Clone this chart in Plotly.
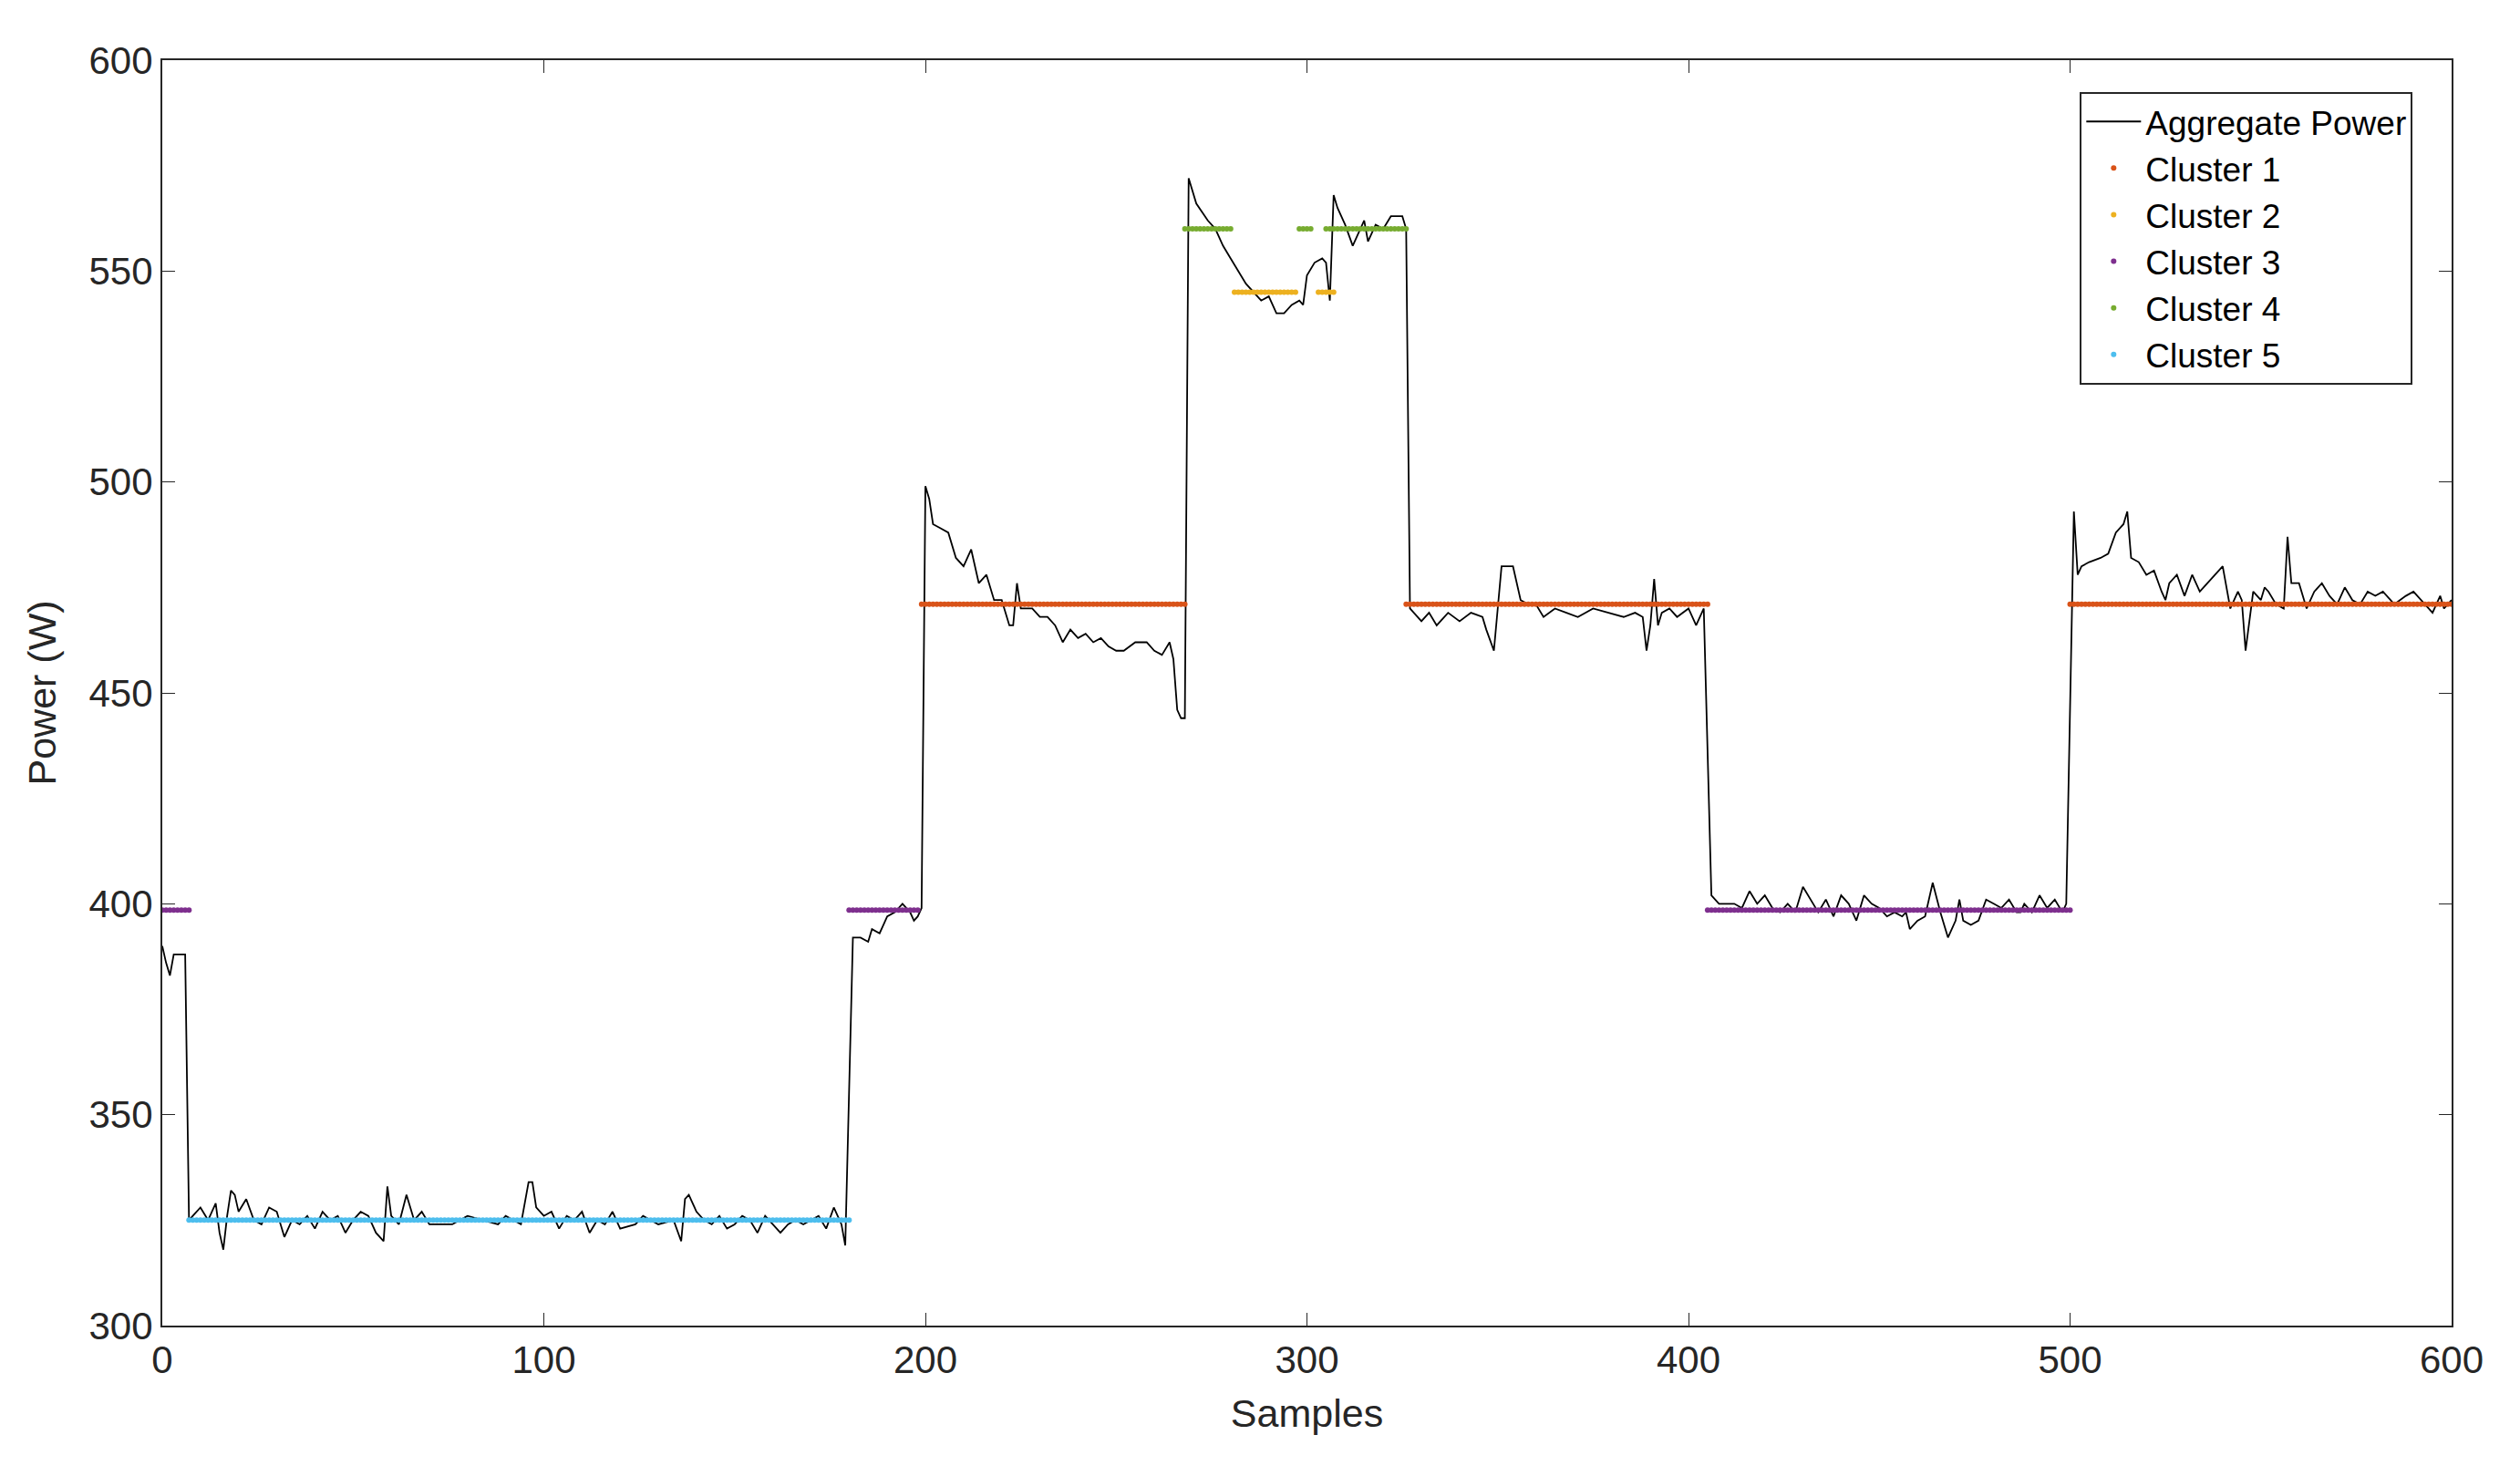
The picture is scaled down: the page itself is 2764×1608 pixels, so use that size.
import plotly.graph_objects as go

# aggregate power as (sample, W) pairs
agg_points = [
    (0, 390), (1, 386), (2, 383), (3, 388), (6, 388), (7, 325), (8, 326), (10, 328), (12, 325), (14, 329),
    (15, 322), (16, 318), (17, 326), (18, 332), (19, 331), (20, 327), (22, 330), (24, 325), (26, 324),
    (28, 328), (30, 327), (32, 321), (34, 325), (36, 324), (38, 326), (40, 323), (42, 327), (44, 325),
    (46, 326), (48, 322), (50, 325), (52, 327), (54, 326), (56, 322), (58, 320), (59, 333), (60, 326),
    (62, 324), (64, 331), (66, 325), (68, 327), (70, 324), (76, 324), (80, 326), (84, 325), (88, 324),
    (90, 326), (94, 324), (96, 334), (97, 334), (98, 328), (100, 326), (102, 327), (104, 323), (106, 326),
    (108, 325), (110, 327), (112, 322), (114, 325), (116, 324), (118, 327), (120, 323), (124, 324),
    (126, 326), (130, 324), (134, 325), (136, 320), (137, 330), (138, 331), (140, 327), (142, 325),
    (144, 324), (146, 326), (148, 323), (150, 324), (152, 326), (154, 325), (156, 322), (158, 326),
    (160, 324), (162, 322), (164, 324), (166, 325), (168, 324), (170, 325), (172, 326), (174, 323),
    (176, 328), (177, 326), (178, 324), (179, 319), (181, 392), (183, 392), (185, 391), (186, 394),
    (188, 393), (190, 397), (192, 398), (194, 400), (196, 398), (197, 396), (198, 397), (199, 399),
    (200, 499), (201, 496), (202, 490), (204, 489), (206, 488), (208, 482), (210, 480), (212, 484),
    (214, 476), (216, 478), (218, 472), (220, 472), (222, 466), (223, 466), (224, 476), (225, 470),
    (228, 470), (230, 468), (232, 468), (234, 466), (236, 462), (238, 465), (240, 463), (242, 464),
    (244, 462), (246, 463), (248, 461), (250, 460), (252, 460), (255, 462), (258, 462), (260, 460),
    (262, 459), (264, 462), (265, 458), (266, 446), (267, 444), (268, 444), (269, 572), (271, 566),
    (274, 562), (276, 560), (278, 556), (280, 553), (282, 550), (284, 547), (286, 545), (288, 543),
    (290, 544), (292, 540), (294, 540), (296, 542), (298, 543), (299, 542), (300, 549), (302, 552),
    (304, 553), (305, 552), (306, 543), (307, 568), (308, 565), (310, 561), (312, 556), (313, 558),
    (315, 562), (316, 557), (318, 561), (320, 560), (322, 563), (325, 563), (326, 560), (327, 470),
    (330, 467), (332, 469), (334, 466), (337, 469), (340, 467), (343, 469), (346, 468), (347, 465),
    (349, 460), (350, 470), (351, 480), (354, 480), (355, 476), (356, 472), (358, 471), (360, 471),
    (362, 468), (365, 470), (368, 469), (371, 468), (375, 470), (379, 469), (383, 468), (386, 469),
    (388, 468), (389, 460), (390, 466), (391, 477), (392, 466), (393, 469), (395, 470), (397, 468),
    (400, 470), (402, 466), (404, 470), (406, 402), (408, 400), (410, 400), (412, 400), (414, 399),
    (416, 403), (418, 400), (420, 402), (422, 399), (424, 398), (426, 400), (428, 398), (430, 404),
    (432, 401), (434, 398), (436, 401), (438, 397), (440, 402), (442, 400), (444, 396), (446, 402),
    (448, 400), (450, 399), (452, 397), (454, 398), (456, 397), (457, 398), (458, 394), (460, 396),
    (462, 397), (464, 405), (466, 398), (468, 392), (470, 396), (471, 401), (472, 396), (474, 395),
    (476, 396), (478, 401), (480, 400), (482, 399), (484, 401), (486, 398), (487, 398), (488, 400),
    (490, 398), (492, 402), (494, 399), (496, 401), (498, 398), (499, 400), (501, 493), (502, 478),
    (503, 480), (505, 481), (508, 482), (510, 483), (512, 488), (514, 490), (515, 493), (516, 482),
    (518, 481), (520, 478), (522, 479), (524, 474), (525, 472), (526, 476), (528, 478), (530, 473),
    (532, 478), (534, 474), (536, 476), (538, 478), (540, 480), (542, 470), (544, 474), (545, 472),
    (546, 460), (548, 474), (550, 472), (551, 475), (552, 474), (554, 471), (556, 470), (557, 487),
    (558, 476), (560, 476), (562, 470), (564, 474), (566, 476), (568, 473), (570, 471), (572, 475),
    (574, 472), (576, 471), (578, 474), (580, 473), (582, 474), (585, 471), (588, 473), (590, 474),
    (592, 472), (595, 469), (597, 473), (598, 470), (600, 472),
]
agg_x = [p[0] for p in agg_points]
agg_y = [p[1] for p in agg_points]

# cluster centroids (W) and sample ranges [start, end]
cluster_names = ["Cluster 1", "Cluster 2", "Cluster 3", "Cluster 4", "Cluster 5"]
cluster_values = [471, 545, 398.5, 560, 325]
cluster_ranges = [
    [(199, 268), (326, 405), (500, 600)],
    [(281, 297), (303, 307)],
    [(0, 7), (180, 198), (405, 500)],
    [(268, 280), (298, 301), (305, 326)],
    [(7, 180)],
]
cluster_colors = ["#D95319", "#EDB120", "#7E2F8E", "#77AC30", "#4DBEEE"]

font = "Liberation Sans, Arial, sans-serif"
fig = go.Figure()
fig.add_trace(go.Scatter(x=agg_x, y=agg_y, mode="lines", name="Aggregate Power",
                         line=dict(color="black", width=1.8)))
for name, val, ranges, color in zip(cluster_names, cluster_values, cluster_ranges, cluster_colors):
    xs = [s for a, b in ranges for s in range(a, b + 1)]
    fig.add_trace(go.Scatter(x=xs, y=[val] * len(xs), mode="markers", name=name,
                             marker=dict(color=color, size=6, line=dict(width=0))))

axis = dict(showgrid=False, zeroline=False, showline=True, linecolor="#262626", linewidth=2,
            mirror="ticks", ticks="inside", ticklen=14, tickcolor="#262626",
            tickfont=dict(size=42, color="#262626", family=font))
fig.update_layout(
    width=2764, height=1608,
    plot_bgcolor="white", paper_bgcolor="white",
    margin=dict(l=170, r=83, t=58, b=162),
    font=dict(family=font, color="#262626"),
    xaxis=dict(axis, range=[0, 600], dtick=100,
               title=dict(text="Samples", font=dict(size=43), standoff=20)),
    yaxis=dict(axis, range=[300, 600], dtick=50,
               title=dict(text="Power (W)", font=dict(size=43), standoff=22)),
    legend=dict(x=0.983, y=0.975, xanchor="right", yanchor="top", bgcolor="white",
                bordercolor="#262626", borderwidth=2, font=dict(size=37, color="black"),
                itemwidth=60, tracegroupgap=0),
    showlegend=True,
)
fig.write_html("out.html")
